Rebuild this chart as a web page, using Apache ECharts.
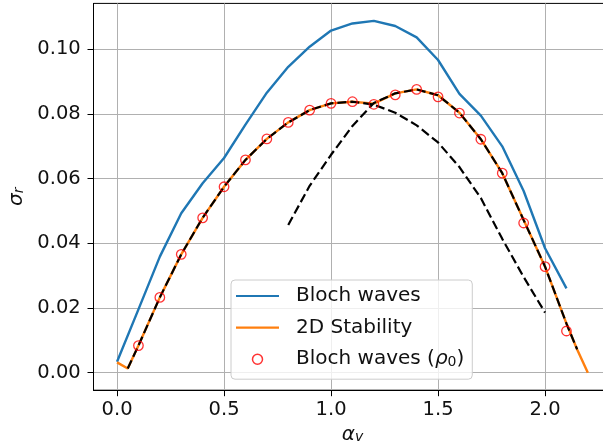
<!DOCTYPE html>
<html><head><meta charset="utf-8">
<script src="https://cdn.jsdelivr.net/npm/echarts@6/dist/echarts.min.js"></script>
<style>html,body{margin:0;padding:0;background:#fff}#c{width:603px;height:446px}</style>
</head><body><div id="c"></div>
<script>
// ---- data ----
const blueX = [0,0.1,0.2,0.3,0.4,0.5,0.6,0.7,0.8,0.9,1.0,1.1,1.2,1.3,1.4,1.5,1.6,1.7,1.8,1.9,2.0,2.1];
const blueY = [0.0034,0.0196,0.0359,0.0493,0.0586,0.0664,0.0767,0.0866,0.0946,0.1008,0.1058,0.1080,0.1088,0.1072,0.1037,0.0967,0.0862,0.0795,0.0700,0.0562,0.0385,0.0261];

const orangeX = [0,0.05,0.1,0.2,0.3,0.4,0.5,0.6,0.7,0.8,0.9,1.0,1.1,1.2,1.3,1.4,1.5,1.6,1.7,1.8,1.9,2.0,2.1,2.15,2.2];
const orangeY = [0.0032,0.0013,0.0084,0.0233,0.0366,0.0479,0.0575,0.0658,0.0723,0.0774,0.0812,0.0833,0.0838,0.0832,0.0864,0.0876,0.0858,0.0804,0.0722,0.0617,0.0472,0.0328,0.0152,0.0072,0.0];

const dashAX = [0.05,0.1,0.2,0.3,0.4,0.5,0.6,0.7,0.8,0.9,1.0,1.1,1.2,1.3,1.4,1.5,1.6,1.7,1.8,1.9,2.0];
const dashAY = [0.0013,0.0084,0.0233,0.0366,0.0479,0.0575,0.0658,0.0723,0.0774,0.0812,0.0833,0.0838,0.0829,0.0804,0.0765,0.0712,0.0636,0.0540,0.0414,0.0296,0.0186];

const dashBX = [0.8,0.9,1.0,1.1,1.2,1.3,1.4,1.5,1.6,1.7,1.8,1.9,2.0,2.1,2.15];
const dashBY = [0.0457,0.0578,0.0674,0.0763,0.0834,0.0864,0.0876,0.0858,0.0804,0.0722,0.0617,0.0472,0.0328,0.0152,0.0072];

const redX = [0.1,0.2,0.3,0.4,0.5,0.6,0.7,0.8,0.9,1.0,1.1,1.2,1.3,1.4,1.5,1.6,1.7,1.8,1.9,2.0,2.1];
const redY = [0.0084,0.0233,0.0366,0.0479,0.0575,0.0658,0.0723,0.0774,0.0812,0.0833,0.0838,0.0830,0.0859,0.0876,0.0853,0.0803,0.0722,0.0617,0.0463,0.0328,0.0129];

const xTicks = [0,0.5,1.0,1.5,2.0];
const yTicks = [0,0.02,0.04,0.06,0.08,0.10];
const names = ['Bloch waves','2D Stability','Bloch waves (ρ0)'];

const pairs = (xs, ys) => xs.map((x, i) => [x, ys[i]]);
const FONT = 'DejaVu Sans';
const LINE_ICON = 'path://M0,0H43V2.2H0Z';

const chart = echarts.init(document.getElementById('c'), null, {renderer: 'canvas'});
chart.setOption({
  animation: false,
  backgroundColor: '#fff',
  textStyle: {fontFamily: FONT},
  grid: {left: 93.5, top: 3.4, width: 517.9, height: 386.8, show: true,
         borderColor: '#000', borderWidth: 1, backgroundColor: 'transparent',
         containLabel: false, outerBoundsMode: 'none'},
  xAxis: {
    type: 'value', min: -0.11, max: 2.31,
    axisLine: {show: true, onZero: false, lineStyle: {color: '#000', width: 1}},
    axisTick: {show: true, customValues: xTicks, length: 6, lineStyle: {color: '#000', width: 1}},
    axisLabel: {customValues: xTicks, formatter: v => v.toFixed(1), fontFamily: FONT, fontSize: 19.5,
                lineHeight: 20, color: '#111', margin: 9.5},
    splitLine: {show: true, lineStyle: {color: '#b0b0b0', width: 1}},
    name: '{a|α}{b|v}', nameLocation: 'middle', nameGap: 31,
    nameTextStyle: {rich: {
      a: {fontFamily: FONT, fontStyle: 'italic', fontSize: 20, lineHeight: 20, color: '#111'},
      b: {fontFamily: FONT, fontStyle: 'italic', fontSize: 14, lineHeight: 8, verticalAlign: 'bottom', color: '#111'}
    }}
  },
  yAxis: {
    type: 'value', min: -0.0054, max: 0.1142,
    axisLine: {show: true, onZero: false, lineStyle: {color: '#000', width: 1}},
    axisTick: {show: true, customValues: yTicks, length: 6, lineStyle: {color: '#000', width: 1}},
    axisLabel: {customValues: yTicks, formatter: v => v.toFixed(2), fontFamily: FONT, fontSize: 19.5,
                lineHeight: 20, color: '#111', margin: 12.8},
    splitLine: {show: true, lineStyle: {color: '#b0b0b0', width: 1}},
    name: '{a|σ}{b|r}', nameLocation: 'middle', nameGap: 67, nameRotate: 90,
    nameTextStyle: {rich: {
      a: {fontFamily: FONT, fontStyle: 'italic', fontSize: 20, lineHeight: 20, color: '#111'},
      b: {fontFamily: FONT, fontStyle: 'italic', fontSize: 14, lineHeight: 8, verticalAlign: 'bottom', color: '#111'}
    }}
  },
  legend: {
    data: [
      {name: names[0], icon: LINE_ICON, itemStyle: {color: '#1f77b4', borderWidth: 0}},
      {name: names[1], icon: LINE_ICON, itemStyle: {color: '#ff7f0e', borderWidth: 0}},
      {name: names[2], icon: 'circle', itemStyle: {color: 'rgba(0,0,0,0)', borderColor: '#ff0000', borderWidth: 1.5}}
    ],
    orient: 'vertical', left: 231, top: 280,
    padding: [6, 8, 10, 5], itemGap: 11.6, itemWidth: 43, itemHeight: 10,
    backgroundColor: 'rgba(255,255,255,0.8)', borderColor: '#cccccc', borderWidth: 1, borderRadius: 4,
    selectedMode: false,
    formatter: n => n === names[2] ? 'Bloch waves ({r|ρ}{s|0})' : n,
    textStyle: {fontFamily: FONT, fontSize: 20, lineHeight: 20, color: '#111', padding: [0, 0, 0, 12],
      rich: {
        r: {fontFamily: FONT, fontStyle: 'italic', fontSize: 20, lineHeight: 20, color: '#111'},
        s: {fontFamily: FONT, fontSize: 14, lineHeight: 8, verticalAlign: 'bottom', color: '#111'}
      }}
  },
  series: [
    {name: names[0], type: 'line', data: pairs(blueX, blueY), symbol: 'none', showSymbol: false,
     lineStyle: {color: '#1f77b4', width: 2.4}, itemStyle: {color: '#1f77b4'}, z: 2},
    {name: names[1], type: 'line', data: pairs(orangeX, orangeY), symbol: 'none', showSymbol: false,
     lineStyle: {color: '#ff7f0e', width: 2.4}, itemStyle: {color: '#ff7f0e'}, z: 3},
    {name: 'modeA', type: 'line', data: pairs(dashAX, dashAY), symbol: 'none', showSymbol: false,
     lineStyle: {color: '#000', width: 2.2, type: [9, 4]}, itemStyle: {color: '#000'}, z: 4},
    {name: 'modeB', type: 'line', data: pairs(dashBX, dashBY), symbol: 'none', showSymbol: false,
     lineStyle: {color: '#000', width: 2.2, type: [9, 4]}, itemStyle: {color: '#000'}, z: 4},
    {name: names[2], type: 'scatter', data: pairs(redX, redY), symbol: 'circle', symbolSize: 9.5,
     itemStyle: {color: 'rgba(0,0,0,0)', borderColor: '#ff0000', borderWidth: 1.3}, z: 5}
  ]
});
</script></body></html>
